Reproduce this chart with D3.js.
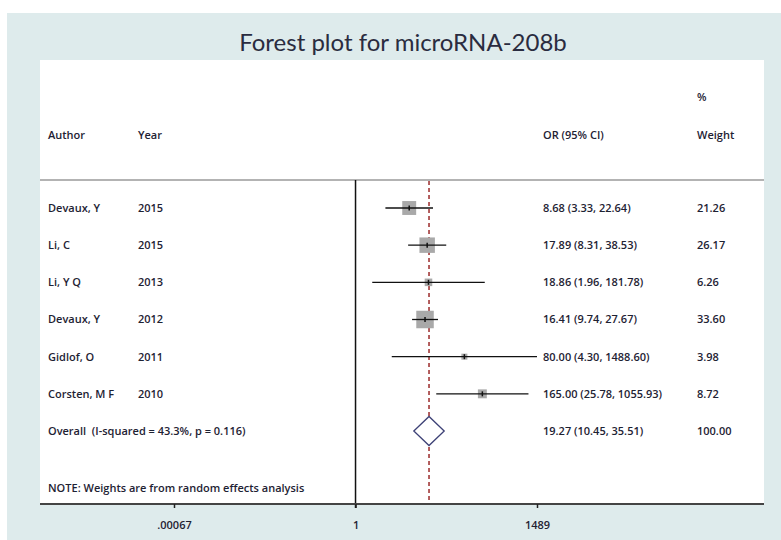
<!DOCTYPE html>
<html>
<head>
<meta charset="utf-8">
<script src="https://cdn.jsdelivr.net/npm/d3@7"></script>
<style>
  body { margin: 0; background: #ffffff; }
  svg { display: block; }
  text { font-family: "Open Sans", Lato, sans-serif; fill: #1e2233; }
</style>
</head>
<body>
<svg id="chart" width="781" height="540"></svg>
<script>
// study rows
var authors = ['Devaux, Y', 'Li, C', 'Li, Y Q', 'Devaux, Y', 'Gidlof, O', 'Corsten, M F'];
var years = ['2015', '2015', '2013', '2012', '2011', '2010'];
var oddsRatio = [8.68, 17.89, 18.86, 16.41, 80.00, 165.00];
var ciLow = [3.33, 8.31, 1.96, 9.74, 4.30, 25.78];
var ciHigh = [22.64, 38.53, 181.78, 27.67, 1488.60, 1055.93];
var weights = [21.26, 26.17, 6.26, 33.60, 3.98, 8.72];

var overall = [19.27, 10.45, 35.51];
var overallLabel = 'Overall  (I-squared = 43.3%, p = 0.116)';
var tickValues = [0.00067, 1, 1489];
var tickLabels = ['.00067', '1', '1489'];

var svg = d3.select('#chart');

// panel background
svg.append('rect')
    .attr('x', 7).attr('y', 13)
    .attr('width', 774).attr('height', 527)
    .attr('fill', '#deebec');
svg.append('rect')
    .attr('x', 40).attr('y', 60)
    .attr('width', 724).attr('height', 444)
    .attr('fill', '#ffffff');

svg.append('text')
    .attr('x', 403).attr('y', 51)
    .attr('text-anchor', 'middle')
    .style('font-family', 'Lato, sans-serif')
    .style('font-size', '24px')
    .style('fill', '#2a2c40')
    .text('Forest plot for microRNA-208b');

var x = d3.scaleLog().domain([0.00067, 1489]).range([174, 537]);
var y = d3.scaleLinear().domain([0, 6]).range([208, 431]);

var colAuthor = 48, colYear = 138, colOr = 543, colWeight = 697;

function label(xp, yp, str) {
    return svg.append('text')
        .attr('x', xp).attr('y', yp)
        .attr('dy', '0.35em')
        .style('font-size', '11px')
        .style('font-weight', 600)
        .text(str);
}

// header
label(colAuthor, 135, 'Author');
label(colYear, 135, 'Year');
label(colOr, 135, 'OR (95% CI)');
label(colWeight, 97, '%');
label(colWeight, 135, 'Weight');

svg.append('line')
    .attr('x1', 40).attr('x2', 764)
    .attr('y1', 180).attr('y2', 180)
    .attr('stroke', '#9a9a9a')
    .attr('stroke-width', 1.5);

// null line at OR = 1
svg.append('line')
    .attr('x1', x(1)).attr('x2', x(1))
    .attr('y1', 180).attr('y2', 508)
    .attr('stroke', '#111')
    .attr('stroke-width', 1.5);

// overall effect line
svg.append('line')
    .attr('x1', x(overall[0])).attr('x2', x(overall[0]))
    .attr('y1', 181).attr('y2', 504)
    .attr('stroke', '#9b2a2a')
    .attr('stroke-width', 1.5)
    .attr('stroke-dasharray', '4,3');

var rows = d3.range(authors.length);

rows.forEach(function (i) {
    var yp = y(i);
    label(colAuthor, yp, authors[i]);
    label(colYear, yp, years[i]);
    label(colOr, yp, oddsRatio[i].toFixed(2) + ' (' + ciLow[i].toFixed(2) + ', ' + ciHigh[i].toFixed(2) + ')');
    label(colWeight, yp, weights[i].toFixed(2));

    var side = 3.02 * Math.sqrt(weights[i]);
    svg.append('rect')
        .attr('x', x(oddsRatio[i]) - side / 2)
        .attr('y', yp - side / 2)
        .attr('width', side).attr('height', side)
        .attr('fill', '#a9a9a9');

    svg.append('line')
        .attr('x1', x(ciLow[i])).attr('x2', x(ciHigh[i]))
        .attr('y1', yp).attr('y2', yp)
        .attr('stroke', '#111')
        .attr('stroke-width', 1.3);

    svg.append('line')
        .attr('x1', x(oddsRatio[i])).attr('x2', x(oddsRatio[i]))
        .attr('y1', yp - 2.5).attr('y2', yp + 2.5)
        .attr('stroke', '#111')
        .attr('stroke-width', 1.5);
});

// overall row
var yo = y(6);
label(colAuthor, yo, overallLabel).style('white-space', 'pre');
label(colOr, yo, overall[0].toFixed(2) + ' (' + overall[1].toFixed(2) + ', ' + overall[2].toFixed(2) + ')');
label(colWeight, yo, '100.00');

svg.append('path')
    .attr('d', 'M' + x(overall[1]) + ',' + yo +
        'L' + x(overall[0]) + ',' + (yo - 14.5) +
        'L' + x(overall[2]) + ',' + yo +
        'L' + x(overall[0]) + ',' + (yo + 14.5) + 'Z')
    .attr('fill', '#fff')
    .attr('stroke', '#3d4176')
    .attr('stroke-width', 1.3);

label(colAuthor, 488, 'NOTE: Weights are from random effects analysis');

// x axis
svg.append('line')
    .attr('x1', 40).attr('x2', 764)
    .attr('y1', 504).attr('y2', 504)
    .attr('stroke', '#444')
    .attr('stroke-width', 2);

var axis = svg.append('g')
    .attr('transform', 'translate(0,504)')
    .call(d3.axisBottom(x)
        .tickValues(tickValues)
        .tickFormat(function (d, i) { return tickLabels[i]; })
        .tickSize(4)
        .tickSizeOuter(0));
axis.select('.domain').remove();
axis.selectAll('.tick line').attr('stroke', '#222').attr('stroke-width', 1.5);
axis.selectAll('.tick text')
    .attr('y', 17)
    .style('font-family', '"Open Sans", sans-serif')
    .style('font-size', '11px')
    .style('font-weight', 600)
    .style('fill', '#1e2233');
</script>
</body>
</html>
